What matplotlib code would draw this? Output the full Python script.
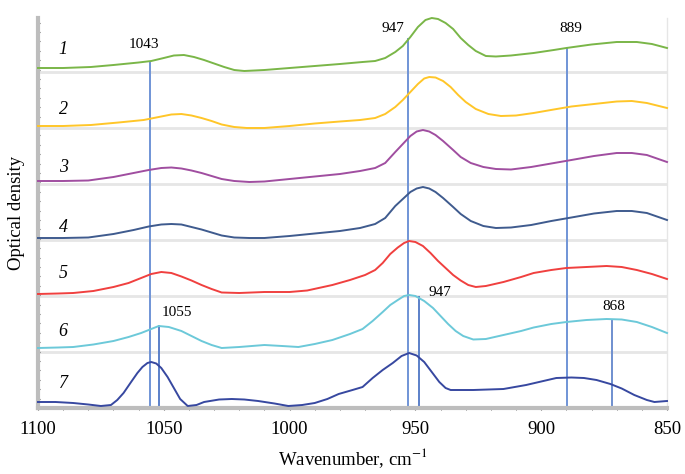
import numpy as np
import matplotlib.pyplot as plt
from matplotlib.ticker import MultipleLocator

plt.rcParams['font.family'] = ['Liberation Serif', 'DejaVu Serif']
plt.rcParams['mathtext.fontset'] = 'stix'

# spectra (wavenumber, height in plot units, offsets included)
wn1 = [1100, 1090, 1079, 1070, 1060, 1055, 1050, 1046, 1042, 1038, 1034, 1030, 1026, 1022, 1018, 1010, 1000, 990, 980, 971, 966, 962, 958, 955, 952, 949, 946, 943.5, 941, 938, 935, 932, 929, 926, 922, 918, 912, 903, 895, 890, 880, 870, 862, 856, 850]
od1 = [340, 340, 341, 343, 345.5, 347, 350, 352.5, 353, 351, 348, 344.5, 341, 338, 337, 338, 340, 342, 344, 346, 347, 350, 356, 362, 371, 381, 388, 390, 389, 385, 379, 370, 363, 357, 352, 351.5, 352.5, 355, 358, 360, 363.5, 366, 366, 364, 360]

wn2 = [1100, 1090, 1079, 1068, 1058, 1052, 1047, 1043, 1039, 1035, 1031, 1027, 1022, 1017, 1010, 1000, 990, 980, 972, 966, 962, 958, 955, 952, 949, 946.5, 944.5, 942, 939, 936, 933, 930, 926, 921, 916, 910, 903, 895, 888, 879, 870, 864, 858, 850]
od2 = [282, 282, 283, 285.5, 288, 291, 293.5, 294, 292.5, 290, 287, 283.5, 281, 280, 280, 282, 284.5, 286.5, 288, 290, 294, 301, 308, 316, 324, 329.5, 331, 330.5, 327, 321, 313, 306, 299, 294, 292, 292.5, 295, 298.5, 301.5, 304, 306.5, 307, 305, 300]

wn3 = [1100, 1090, 1080, 1070, 1062, 1056, 1051, 1047, 1043, 1039, 1035, 1031, 1027, 1022, 1016, 1010, 1000, 990, 980, 972, 966, 962, 958, 955, 952, 949.5, 947, 944.5, 942, 939, 935, 932, 928, 923, 918, 912, 904, 896, 888, 879, 870, 864, 858, 850]
od3 = [227, 227, 227.5, 231, 235, 238, 240, 240.5, 239.5, 237.5, 235, 232, 229, 227, 226, 226.5, 229, 231.5, 234, 237, 240, 245, 256, 264, 272, 276.5, 278, 276.5, 273, 267, 258, 251, 245, 241, 239, 238.5, 241, 244.5, 248, 252, 255, 255, 253, 246]

wn4 = [1100, 1090, 1080, 1070, 1062, 1056, 1051, 1047, 1043, 1039, 1035, 1031, 1027, 1022, 1016, 1010, 1000, 990, 980, 972, 966, 962, 958, 955, 952, 949.5, 947, 944.5, 942, 939, 935, 932, 928, 923, 918, 912, 904, 896, 888, 879, 870, 864, 858, 850]
od4 = [170, 170, 170.5, 174, 178, 181.5, 183.5, 184, 183.5, 181, 178.5, 175.5, 172.5, 170.5, 170, 170, 172, 174.5, 177, 180, 184, 190, 202, 209, 216, 219.5, 221, 219.5, 216, 210, 201, 194, 187, 182, 180, 180.5, 183, 187, 190.5, 194.5, 197, 197, 195, 188]

wn5 = [1100, 1092, 1086, 1078, 1070, 1064, 1059, 1055, 1051, 1047, 1043, 1039, 1035, 1031, 1027, 1020, 1010, 1000, 993, 983, 976, 970, 966, 963, 960, 957, 954.5, 952.5, 950, 947, 944, 941, 938, 935, 932, 929, 926, 922, 915, 908, 903, 896, 890, 882, 874, 868, 862, 856, 850]
od5 = [114, 114.5, 115, 117, 121, 125, 130, 134, 136, 135, 131.5, 127.5, 123, 119, 115.5, 115, 116, 116, 117.5, 123, 128, 133, 138, 145, 154, 160.5, 165, 167, 166, 162, 155, 147, 140, 133, 127.5, 123, 121, 122, 126, 131, 135, 138, 140, 141, 142, 141, 138, 134, 129]

wn6 = [1100, 1092, 1086, 1078, 1070, 1064, 1059, 1055, 1052, 1048, 1043, 1039, 1035, 1031, 1027, 1020, 1010, 1003, 996.5, 990, 983, 976, 971, 967, 963, 960, 957, 954.5, 952.5, 950, 946.5, 943, 940, 937, 934, 931, 927, 922, 915, 908, 903, 896, 890, 882, 874, 868, 862, 856, 850]
od6 = [60, 60.5, 61, 63.5, 67, 71, 75, 79, 82, 81, 77, 72, 67, 63, 60, 61, 63, 62, 61, 64, 68, 74, 79, 87, 96, 103, 108, 112, 113, 112, 107, 100, 92, 84, 77, 72, 68.5, 69, 73, 77, 80.5, 84, 86, 88, 89, 88.5, 86, 81, 75]

wn7 = [1100, 1093, 1086, 1080, 1075, 1071, 1068.5, 1066, 1063, 1060.5, 1058.5, 1056.5, 1055, 1053, 1051, 1048.5, 1046, 1043.5, 1040.5, 1037, 1034, 1028, 1023, 1018, 1012.5, 1006, 1000.5, 995, 990, 985, 980.5, 975, 971, 967, 963, 959, 955.5, 952.5, 949.5, 946.5, 943.5, 940.5, 938, 936, 927, 915, 906, 900, 894, 888, 883, 878, 872.5, 868, 863, 858, 855, 850]
od7 = [6, 6, 5, 3.5, 2, 3, 8, 15, 26, 35, 41, 45, 46, 44.5, 40, 31, 20, 9, 2, 3, 6, 8.5, 9, 8.5, 7, 4.5, 2, 3, 5, 9, 14, 18, 21, 30, 38, 45, 52, 55, 52.5, 46, 36, 26, 20, 18, 18, 19, 23, 26.5, 30, 30.5, 30, 28, 24, 19.5, 13, 8, 6, 7]

colors = ['#7ab648', '#ffc629', '#a04ea0', '#3f5b8e', '#f0403f', '#6cc9d9', '#3748a0']
names = ['1', '2', '3', '4', '5', '6', '7']
name_y = [358, 298, 241, 181, 135, 76, 25]
separators = [336, 280, 224, 168, 112, 56]

# marked bands: position, top end of line, label, label position
mark_wn = [1055.6, 952.9, 889.6, 1052, 948.5, 871.7]
mark_top = [346, 369, 360, 82, 111, 87]
mark_txt = ['1043', '947', '889', '1055', '947', '868']
mark_tx = [1058, 958.8, 888.4, 1044.8, 940.4, 871.2]
mark_ty = [363, 380, 380, 96, 116, 102]
mark_col = ['#7094d6', '#7094d6', '#7094d6', '#5b80c9', '#5b80c9', '#6f8fcf']

fig = plt.figure(figsize=(6.85, 4.74), dpi=100)
ax = fig.add_axes([38/685, 66/474, 629/685, 390/474])

for y in separators:
    ax.plot([1100, 850], [y, y], color='#e6e6e6', lw=2, zorder=1)

for i in range(len(mark_wn)):
    ax.plot([mark_wn[i], mark_wn[i]], [0, mark_top[i]], color=mark_col[i], lw=1.4, zorder=2)
    ax.text(mark_tx[i], mark_ty[i], mark_txt[i], fontsize=11, ha='center', va='center', zorder=4)

series = [(wn1, od1), (wn2, od2), (wn3, od3), (wn4, od4), (wn5, od5), (wn6, od6), (wn7, od7)]
for (w, v), c in zip(series, colors):
    ax.plot(w, v, color=c, lw=1.4, zorder=3, solid_joinstyle='round', clip_on=False)

for n, y in zip(names, name_y):
    ax.text(1090, y, n, fontsize=13, style='italic', ha='center', va='center')

ax.set_xlim(1100, 850)
ax.set_ylim(0, 390)
ax.set_xticks([1100, 1050, 1000, 950, 900, 850])
ax.xaxis.set_minor_locator(MultipleLocator(10))
ax.yaxis.set_major_locator(MultipleLocator(9.4))
ax.set_yticklabels([])
ax.tick_params(axis='x', which='both', direction='inout', length=3, color='#555555', labelsize=13.5, pad=8)
ax.tick_params(axis='y', which='both', direction='inout', length=3, color='#555555', labelleft=False)

for s in ['left', 'bottom']:
    ax.spines[s].set_color('#bdbdbd')
    ax.spines[s].set_linewidth(3)
ax.spines['top'].set_visible(False)
ax.spines['right'].set_color('#e6e6e6')
ax.spines['right'].set_linewidth(1)

ax.set_xlabel('Wavenumber, cm$^{-1}$', fontsize=13.5, labelpad=6)
ax.set_ylabel('Optical density', fontsize=13.5, labelpad=8)

fig.savefig('out.png', dpi=100)
